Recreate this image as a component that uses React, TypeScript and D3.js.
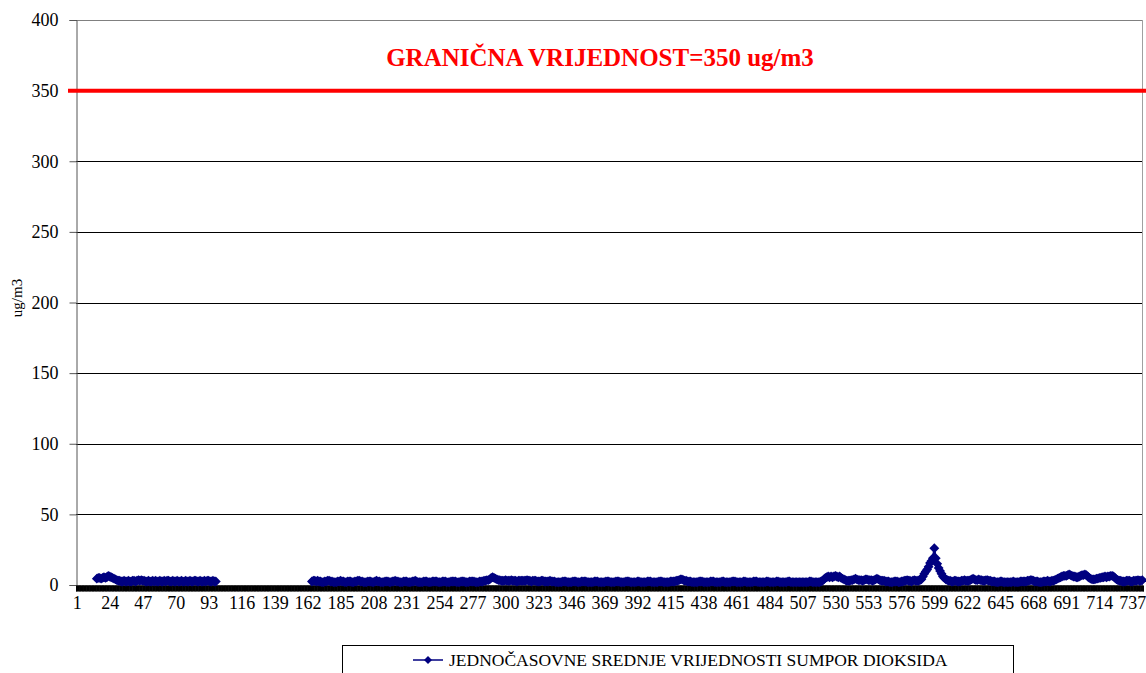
import React, { useEffect, useRef } from "react"
import * as d3 from "d3"

// hourly SO2 means, one row per day (24 hours), null = no measurement
const day01 = [null, null, null, null, null, null, null, null, null, null, null, null, null, null, 4.5, 5, 5, 4.5, 5, 5.5, 5, 5.5, 6.5, 6]
const day02 = [5.5, 5, 4.5, 4, 3.5, 3, 3, 2.5, 2.5, 3, 2.5, 2.5, 3, 2.5, 2.5, 3, 3, 2.5, 3, 3.5, 3, 3.5, 3, 3]
const day03 = [2.5, 2.5, 3, 2.5, 2.5, 3, 2.5, 3, 2.5, 2.5, 3, 2.5, 2.5, 3, 2.5, 3, 3, 2.5, 2.5, 3, 2.5, 2.5, 3, 2.5]
const day04 = [2.5, 3, 2.5, 2.5, 3, 2.5, 2.5, 3, 2.5, 2.5, 3, 3, 2.5, 2.5, 3, 2.5, 2.5, 3, 2.5, 3, 3, 2.5, 2.5, 3]
const day05 = [2.5, 2.5, null, null, null, null, null, null, null, null, null, null, null, null, null, null, null, null, null, null, null, null, null, null]
const day06 = [null, null, null, null, null, null, null, null, null, null, null, null, null, null, null, null, null, null, null, null, null, null, null, null]
const day07 = [null, null, null, null, null, null, null, null, null, null, null, null, null, null, null, null, null, null, null, null, 2.5, 3, 3, 2.5]
const day08 = [3, 2.5, 2.5, 2, 2, 2.5, 2.5, 3, 3, 2.5, 2.5, 2, 2, 2, 2.5, 2.5, 3, 2.5, 2.5, 2, 2, 2.5, 2.5, 2.5]
const day09 = [2, 2, 2.5, 2.5, 3, 3, 2.5, 2.5, 2, 2, 2, 2.5, 2.5, 2.5, 2, 2, 2.5, 3, 2.5, 2.5, 2, 2, 2, 2.5]
const day10 = [2.5, 2.5, 2, 2, 2.5, 2.5, 3, 2.5, 2.5, 2, 2, 2, 2.5, 2.5, 2.5, 2, 2, 2, 2.5, 2.5, 3, 2.5, 2, 2]
const day11 = [2, 2, 2.5, 2.5, 2.5, 2, 2, 2, 2.5, 2.5, 2.5, 2.5, 2, 2, 2, 2.5, 2.5, 2.5, 2, 2, 2, 2.5, 2.5, 2.5]
const day12 = [2.5, 2, 2, 2, 2.5, 2.5, 2.5, 2, 2, 2, 2.5, 2.5, 2.5, 2.5, 2, 2, 2, 2.5, 2.5, 2.5, 3, 3, 3.5, 3.5]
const day13 = [4, 5, 5.5, 5, 4.5, 4, 3.5, 3.5, 3, 3, 3, 3.5, 3, 3, 3, 3.5, 3, 3, 3, 2.5, 3, 3, 3, 3]
const day14 = [3, 3, 3.5, 3, 3, 2.5, 3, 3, 3, 2.5, 2.5, 2.5, 3, 3, 2.5, 2.5, 2.5, 2.5, 3, 2.5, 2.5, 2.5, 2, 2]
const day15 = [2, 2, 2, 2.5, 2.5, 2.5, 2, 2, 2, 2, 2.5, 2.5, 2.5, 2, 2, 2, 2.5, 2.5, 2.5, 2.5, 2, 2, 2, 2]
const day16 = [2, 2.5, 2.5, 2.5, 2, 2, 2, 2, 2, 2.5, 2.5, 2.5, 2, 2, 2, 2, 2.5, 2.5, 2.5, 2, 2, 2, 2, 2.5]
const day17 = [2.5, 2.5, 2, 2, 2, 2, 2, 2.5, 2.5, 2, 2, 2, 2, 2, 2.5, 2.5, 2.5, 2, 2, 2, 2, 2, 2.5, 2.5]
const day18 = [2.5, 2, 2, 2, 2, 2, 2.5, 2.5, 2.5, 2.5, 3, 3, 3.5, 4, 4, 3.5, 3, 3, 2.5, 2.5, 2.5, 2, 2, 2]
const day19 = [2, 2, 2.5, 2.5, 2.5, 2, 2, 2, 2, 2, 2.5, 2.5, 2.5, 2, 2, 2, 2, 2, 2.5, 2.5, 2, 2, 2, 2]
const day20 = [2, 2.5, 2.5, 2.5, 2, 2, 2, 2, 2, 2.5, 2.5, 2, 2, 2, 2, 2, 2.5, 2.5, 2.5, 2, 2, 2, 2, 2]
const day21 = [2, 2.5, 2.5, 2, 2, 2, 2, 2, 2.5, 2.5, 2, 2, 2, 2, 2, 2, 2.5, 2.5, 2, 2, 2, 2, 2, 2]
const day22 = [2, 2, 2, 2, 2, 2, 2, 2.5, 2.5, 2, 2, 2, 2, 2, 2, 2.5, 3, 4, 5, 5.5, 6, 5.5, 6, 5.5]
const day23 = [6, 6.5, 6, 5.5, 6, 5, 4.5, 4, 3.5, 3, 3, 3, 3.5, 3.5, 4, 4.5, 4, 3.5, 3.5, 3.5, 3, 3.5, 4, 4]
const day24 = [3.5, 3.5, 3.5, 3, 3.5, 4, 4.5, 4, 3.5, 3, 3, 3, 2.5, 2.5, 2.5, 2, 2, 2, 2.5, 2.5, 2.5, 2, 2, 2.5]
const day25 = [2.5, 3, 3, 3.5, 3, 3, 2.5, 3, 3.5, 3, 3, 3, 3.5, 4, 6, 8, 9.5, 11, 13, 15.5, 17, 19, 26, 19]
const day26 = [15, 12, 10, 8, 6, 5, 4, 3.5, 3, 3, 2.5, 2.5, 3, 3, 2.5, 2.5, 2.5, 3, 3, 3.5, 3, 3, 3, 3.5]
const day27 = [4, 4.5, 4, 3.5, 3.5, 4, 3.5, 3.5, 3, 3, 3.5, 3.5, 3, 3, 2.5, 2.5, 2.5, 2, 2, 2, 2.5, 2.5, 2, 2]
const day28 = [2, 2, 2, 2, 2, 2.5, 2, 2, 2, 2, 2.5, 2.5, 2.5, 2.5, 2.5, 3, 3, 3.5, 3.5, 3, 2.5, 2.5, 2.5, 2]
const day29 = [2, 2, 2.5, 2.5, 2.5, 3, 2.5, 2.5, 3, 3, 3.5, 4, 4.5, 5, 5.5, 6, 6.5, 6.5, 6.5, 7, 7.5, 7, 6.5, 6]
const day30 = [6, 5.5, 5.5, 6, 6.5, 7, 7, 7.5, 7, 6, 5, 4.5, 4, 4, 4, 4.5, 4.5, 5, 5, 5.5, 5.5, 6, 5.5, 6]
const day31 = [6, 6.5, 6.5, 6, 5, 4, 3.5, 3, 3, 2.5, 2.5, 2.5, 3, 3, 3, 2.5, 2.5, 3, 3, 3, 3.5, 3, 3, 3.5]

const so2Values: (number | null)[] = [
    day01, day02, day03, day04, day05, day06, day07, day08, day09, day10, day11,
    day12, day13, day14, day15, day16, day17, day18, day19, day20, day21, day22,
    day23, day24, day25, day26, day27, day28, day29, day30, day31,
].flat()

const hours = so2Values.map((d, i) => i + 1)
const xTickLabels = [1, 24, 47, 70, 93, 116, 139, 162, 185, 208, 231, 254, 277, 300, 323, 346, 369, 392, 415, 438, 461, 484, 507, 530, 553, 576, 599, 622, 645, 668, 691, 714, 737]
const yTicks = [0, 50, 100, 150, 200, 250, 300, 350, 400]
const limitValue = 350
const titleText = "GRANIČNA VRIJEDNOST=350 ug/m3"
const legendText = "JEDNOČASOVNE SREDNJE VRIJEDNOSTI SUMPOR DIOKSIDA"

const W = 1146, H = 673
const margin = { top: 20, right: 3, bottom: 88, left: 76 }
const serif = "Liberation Serif"
const navy = "#000080"

function Chart() {
    const ref = useRef<SVGSVGElement>(null)

    useEffect(() => {
        const svg = d3.select(ref.current)
        svg.selectAll("*").remove()

        const plotW = W - margin.left - margin.right
        const plotH = H - margin.top - margin.bottom

        const x = d3.scalePoint<number>()
            .domain(hours)
            .range([margin.left, margin.left + plotW])
            .padding(0.5)
        const y = d3.scaleLinear()
            .domain([0, 400])
            .range([margin.top + plotH, margin.top])

        // gridlines
        svg.append("g")
            .selectAll("line")
            .data(yTicks.filter(d => d > 0))
            .enter()
            .append("line")
            .attr("x1", margin.left)
            .attr("x2", margin.left + plotW)
            .attr("y1", d => Math.round(y(d)) + 0.5)
            .attr("y2", d => Math.round(y(d)) + 0.5)
            .attr("stroke", d => d === 400 ? "#808080" : "#000")
            .attr("stroke-width", 1)

        // right border of plot area
        svg.append("line")
            .attr("x1", margin.left + plotW - 0.5)
            .attr("x2", margin.left + plotW - 0.5)
            .attr("y1", margin.top)
            .attr("y2", margin.top + plotH)
            .attr("stroke", "#a0a0a0")

        // y axis
        const yAxis = d3.axisLeft(y)
            .tickValues(yTicks)
            .tickSize(7)
            .tickPadding(11)
            .tickFormat(d => String(d))
        const yg = svg.append("g")
            .attr("transform", "translate(" + (margin.left + 0.5) + ",0)")
            .call(yAxis)
        yg.attr("font-family", serif).attr("font-size", 18)
        yg.select(".domain").attr("stroke", "#555")
        yg.selectAll(".tick line").attr("stroke", "#555")
        yg.selectAll("text").attr("fill", "#000")

        // x axis: a tick for every hour, labels every 23 hours
        const labelSet = new Set(xTickLabels)
        const xAxis = d3.axisBottom(x)
            .tickValues(hours)
            .tickSize(6)
            .tickPadding(5)
            .tickFormat(d => labelSet.has(d as number) ? String(d) : "")
        const xg = svg.append("g")
            .attr("transform", "translate(0," + (margin.top + plotH + 0.5) + ")")
            .call(xAxis)
        xg.attr("font-family", serif).attr("font-size", 18)
        xg.select(".domain").attr("stroke", "#000")
        xg.selectAll(".tick line")
            .attr("stroke", "#000")
            .attr("stroke-width", 2)
        xg.selectAll("text").attr("fill", "#000")

        // y axis title
        svg.append("text")
            .attr("transform", "translate(22," + 298 + ") rotate(-90)")
            .attr("text-anchor", "middle")
            .attr("font-family", serif)
            .attr("font-size", 15)
            .text("ug/m3")

        // limit line
        svg.append("line")
            .attr("x1", 68)
            .attr("x2", W)
            .attr("y1", y(limitValue))
            .attr("y2", y(limitValue))
            .attr("stroke", "#ff0000")
            .attr("stroke-width", 4)

        svg.append("text")
            .attr("x", 600)
            .attr("y", 66)
            .attr("text-anchor", "middle")
            .attr("fill", "#ff0000")
            .attr("font-family", serif)
            .attr("font-weight", "bold")
            .attr("font-size", 25)
            .text(titleText)

        // series
        const line = d3.line<number | null>()
            .defined(d => d !== null)
            .x((d, i) => x(hours[i]) as number)
            .y(d => y(d as number))
        svg.append("path")
            .datum(so2Values)
            .attr("fill", "none")
            .attr("stroke", navy)
            .attr("stroke-width", 2)
            .attr("d", line)

        const diamond = d3.symbol().type(d3.symbolDiamond2).size(62)
        svg.append("g")
            .selectAll("path")
            .data(so2Values.map((v, i) => ({ v, h: hours[i] })).filter(d => d.v !== null))
            .enter()
            .append("path")
            .attr("d", diamond)
            .attr("fill", navy)
            .attr("transform", d => "translate(" + x(d.h) + "," + y(d.v as number) + ")")

        // legend
        const lg = svg.append("g")
        lg.append("rect")
            .attr("x", 342.5)
            .attr("y", 645.5)
            .attr("width", 671)
            .attr("height", 40)
            .attr("fill", "#fff")
            .attr("stroke", "#000")
        lg.append("line")
            .attr("x1", 413)
            .attr("x2", 443)
            .attr("y1", 660)
            .attr("y2", 660)
            .attr("stroke", navy)
            .attr("stroke-width", 1.5)
        lg.append("path")
            .attr("d", d3.symbol().type(d3.symbolDiamond2).size(40))
            .attr("fill", navy)
            .attr("transform", "translate(428,660)")
        lg.append("text")
            .attr("x", 449)
            .attr("y", 666)
            .attr("font-family", serif)
            .attr("font-size", 17.5)
            .text(legendText)
    }, [])

    return <svg ref={ref} width={W} height={H} style={{ position: "absolute", left: 0, top: 0, background: "#fff" }} />
}

export default function App() {
    return <Chart />
}
